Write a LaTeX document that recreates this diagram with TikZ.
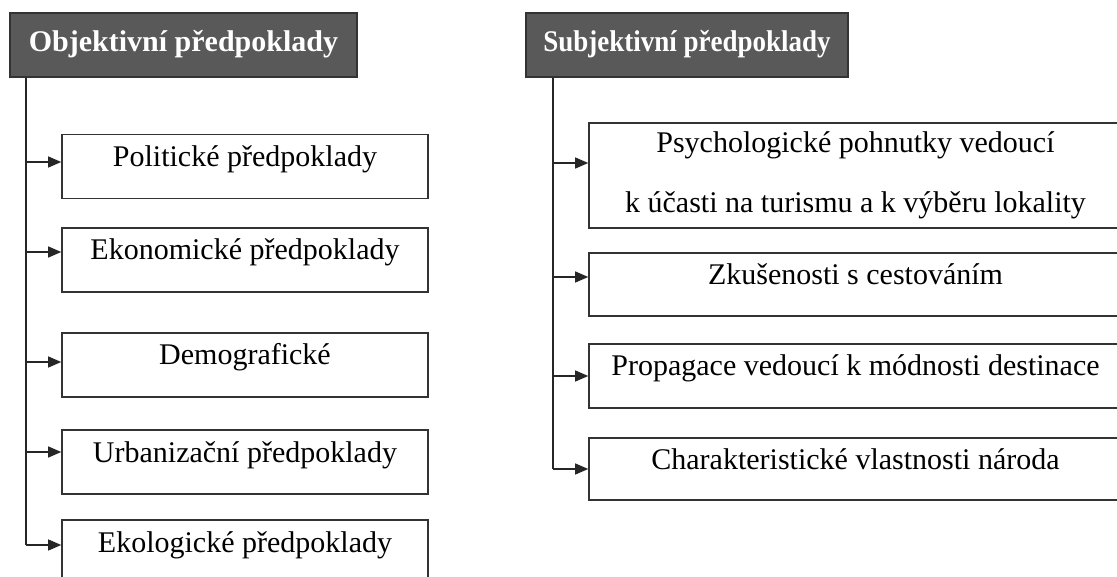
\documentclass[tikz,border=0pt]{standalone}
\usepackage{fontspec}
\setmainfont{Liberation Serif}
\usetikzlibrary{arrows.meta}

\begin{document}
\begin{tikzpicture}[x=1pt, y=-1pt,
    head/.style={draw=black!80, line width=1.6pt, fill=black!65, text=white,
      font=\fontsize{30}{36}\selectfont\bfseries, minimum height=64pt,
      text height=28pt, text depth=14pt, inner sep=0pt},
    box/.style={draw=black!80, line width=1.6pt, fill=white,
      font=\fontsize{30}{60}\selectfont, align=center, inner sep=0pt},
    single/.style={box, text height=16pt, text depth=16pt},
    link/.style={draw=black!85, line width=1.2pt, >={Triangle[length=13pt,width=11pt]}}]

  \clip (0,0) rectangle (1117,577);
  \fill[white] (0,0) rectangle (1117,577);

  \def \lx {26}  % left trunk
  \def \rx {553} % right trunk

  \node[head, minimum width=347pt] (obj) at (183.5,45) {Objektivní předpoklady};
  \node[head, minimum width=322pt] (subj) at (687,45)
    {\scalebox{0.9}[1]{Subjektivní předpoklady}};

  % left column
  \foreach \c/\a/\t [count=\i] in {166.5/162/Politické předpoklady,
      260/252/Ekonomické předpoklady, 365/362/Demografické,
      462/452/Urbanizační předpoklady, 552/545/Ekologické předpoklady}
  {
    \node[single, minimum width=366pt, minimum height=64pt] (o\i) at (245,\c) {\t};
    \coordinate (oa\i) at (\lx,\a);
    \draw[link, ->] (oa\i) -- (o\i.west |- oa\i);
  }
  \draw[link] (obj.south -| oa1) -- (oa5);

  % right column
  \node[box, minimum width=533pt, minimum height=105pt] (s1) at (855.5,175.5)
    {Psychologické pohnutky vedoucí\\k účasti na turismu a k výběru lokality};
  \coordinate (sa1) at (\rx,163);
  \draw[link, ->] (sa1) -- (s1.west |- sa1);
  \foreach \c/\h/\a/\t [count=\i from 2] in {284.5/63/277/Zkušenosti s cestováním,
      376/64/376/Propagace vedoucí k módnosti destinace,
      469/62/469/Charakteristické vlastnosti národa}
  {
    \node[single, minimum width=533pt, minimum height=\h pt] (s\i) at (855.5,\c) {\t};
    \coordinate (sa\i) at (\rx,\a);
    \draw[link, ->] (sa\i) -- (s\i.west |- sa\i);
  }
  \draw[link] (subj.south -| sa1) -- (sa4);
\end{tikzpicture}
\end{document}
